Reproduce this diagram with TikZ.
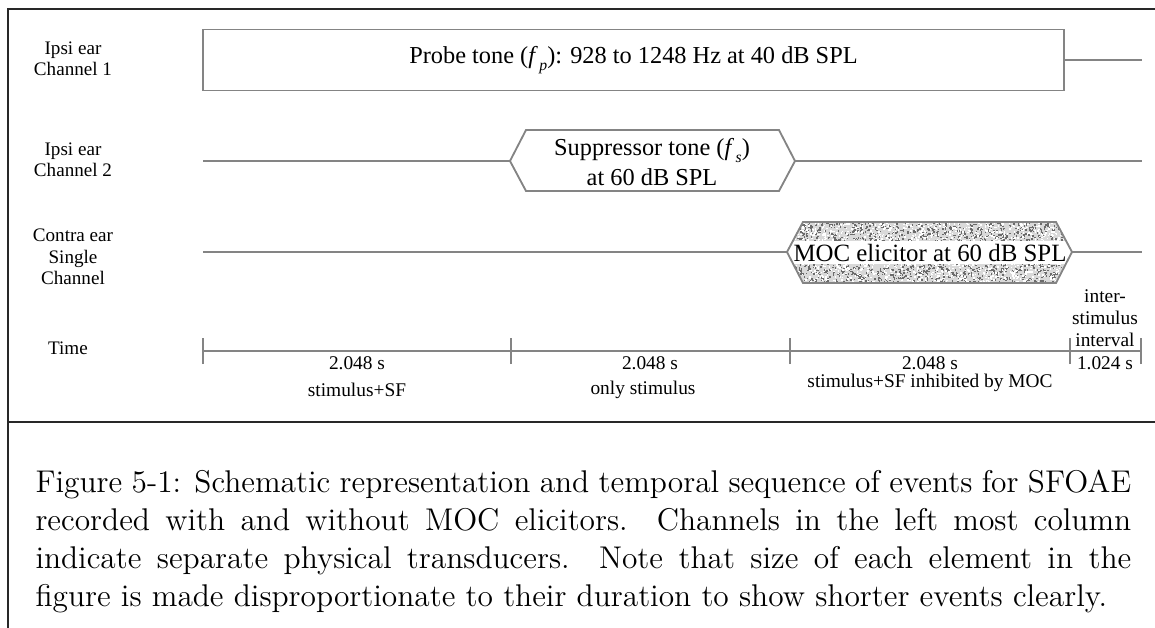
\documentclass[tikz,border=0pt]{standalone}
\usepackage{fontspec}
\newfontfamily\tms{Liberation Serif}
\definecolor{linegray}{RGB}{132,132,132}
\definecolor{framecol}{RGB}{40,40,40}
\newcommand{\subit}[1]{\kern0.6pt\raisebox{-0.6ex}{\fontsize{6}{6}\selectfont\itshape #1}}
\begin{document}
\begin{tikzpicture}[x=0.382pt, y=-0.382pt,
  frame/.style={draw=framecol, line width=0.75pt},
  wire/.style={draw=linegray, line width=0.7pt},
  big/.style={font=\tms\fontsize{9.3}{11.5}\selectfont, align=center, inner sep=0pt},
  small/.style={font=\tms\fontsize{7.4}{8.4}\selectfont, align=center, inner sep=0pt},
  chan/.style={font=\tms\fontsize{7.3}{8.2}\selectfont, align=center, inner sep=0pt}]
\useasboundingbox (0,0) rectangle (1155,628);

% outer frame and separator
\draw[frame] (8,628) -- (8,9) -- (1155,9);
\draw[frame] (8,422) -- (1155,422);

% channel labels
\node[chan] (lab1) at (73,59) {Ipsi ear\\Channel 1};
\node[chan] (lab2) at (73,160) {Ipsi ear\\Channel 2};
\node[chan] (lab3) at (73,257) {Contra ear\\Single\\Channel};
\node[chan] (labt) at (68,348) {Time};

% channel 1: probe tone
\node[wire, minimum width=328.6pt, minimum height=23.3pt, inner sep=0pt] (probe) at (633.5,60) {};
\node[big] (probetxt) at (probe.center) {Probe tone (\textit{f}\subit{p}): 928 to 1248 Hz at 40 dB SPL};
\coordinate (c1end) at (1142,60);
\draw[wire] (probe.east) -- (c1end);

% channel 2: suppressor tone
\coordinate (c2start) at (203,161);
\coordinate (sw) at (510,161);
\coordinate (se) at (795,161);
\coordinate (c2end) at (1142,161);
\draw[wire] (c2start) -- (sw);
\draw[wire] (sw) -- (526,130) -- (779,130) -- (se) -- (779,191) -- (526,191) -- cycle;
\draw[wire] (se) -- (c2end);
\node[big] (supp) at (652,162) {Suppressor tone (\textit{f}\subit{s})\\at 60 dB SPL};

% channel 3: MOC elicitor with noise texture
\coordinate (c3start) at (203,252);
\coordinate (mw) at (787,252);
\coordinate (me) at (1072,252);
\coordinate (c3end) at (1142,252);
\begin{scope}
  \clip (mw) -- (803,222) -- (1056,222) -- (me) -- (1056,283) -- (803,283) -- cycle;
  \fill[gray!30] (785,220) rectangle (1073,285);
  \pgfmathsetseed{4711}
  \foreach \i in {1,...,2200} {
    \pgfmathsetmacro\px{929.5+143*rand}
    \pgfmathsetmacro\py{252.5+32*rand}
    \fill[black!58] (\px,\py) rectangle ++(1.5,1.5);
  }
  \foreach \i in {1,...,1600} {
    \pgfmathsetmacro\px{929.5+143*rand}
    \pgfmathsetmacro\py{252.5+32*rand}
    \fill[white] (\px,\py) rectangle ++(1.5,1.5);
  }
  \fill[white] (785,241) rectangle (1073,264);
\end{scope}
\draw[wire] (c3start) -- (mw);
\draw[wire] (mw) -- (803,222) -- (1056,222) -- (me) -- (1056,283) -- (803,283) -- cycle;
\draw[wire] (me) -- (c3end);
\node[big, font=\tms\fontsize{9.5}{11}\selectfont] (moc) at (930,253) {MOC elicitor at 60 dB SPL};

% time axis
\coordinate (t0) at (203,351);
\coordinate (t1) at (511,351);
\coordinate (t2) at (790,351);
\coordinate (t3) at (1070,351);
\coordinate (t4) at (1141,351);
\draw[wire] (t0) -- (t4);
\foreach \t in {t0,t1,t2,t3,t4} \draw[wire] ([yshift=-5]\t) -- ([yshift=5]\t);

\node[small] (d1) at (357,363) {2.048 s};
\node[small] (d2) at (650,363) {2.048 s};
\node[small] (d3) at (930,363) {2.048 s};
\node[small] (d4) at (1105,363) {1.024 s};
\node[small] (e1) at (357,390) {stimulus+SF};
\node[small] (e2) at (643,390) {only stimulus};
\node[small] (e3) at (930,383) {stimulus+SF inhibited by MOC};
\node[small] (isi) at (1105,318) {inter-\\stimulus\\interval};

% caption
\node[anchor=north west, inner sep=0pt, text width=418.6pt, align=justify,
      font=\fontsize{12}{14.5}\selectfont] (cap) at (35,470)
  {Figure 5-1: Schematic representation and temporal sequence of events for SFOAE\linebreak
   recorded with and without MOC elicitors. Channels in the left most column\linebreak
   indicate separate physical transducers. Note that size of each element in the\linebreak
   figure is made disproportionate to their duration to show shorter events clearly.};
\end{tikzpicture}
\end{document}
